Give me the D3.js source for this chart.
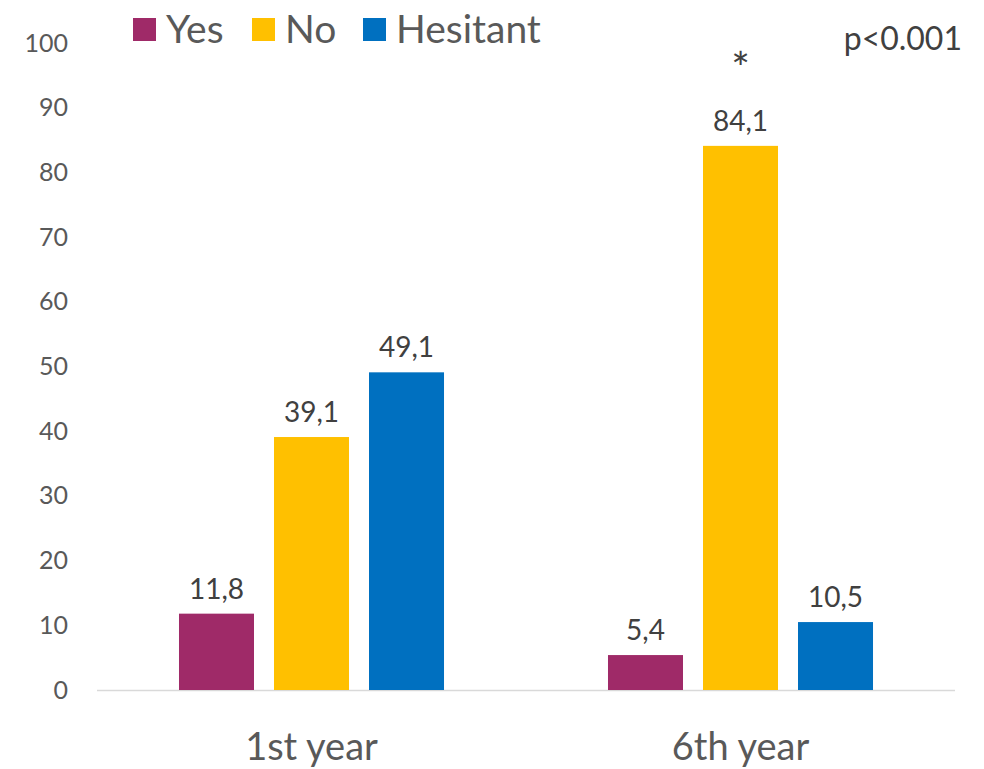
<!DOCTYPE html>
<html>
<head>
<meta charset="utf-8">
<script src="https://cdn.jsdelivr.net/npm/d3@7"></script>
<style>
  body { margin: 0; background: #fff; }
  svg { font-family: "Lato", "Open Sans", sans-serif; }
</style>
</head>
<body>
<div id="chart"></div>
<script>
// data
var years = ["1st year", "6th year"];
var answers = ["Yes", "No", "Hesitant"];
var yesValues = [11.8, 5.4];
var noValues = [39.1, 84.1];
var hesitantValues = [49.1, 10.5];
var yTicks = [0, 10, 20, 30, 40, 50, 60, 70, 80, 90, 100];

var colors = { "Yes": "#9F2A68", "No": "#FFC000", "Hesitant": "#0070C0" };

var width = 984, height = 769;

var svg = d3.select("#chart")
  .append("svg")
    .attr("width", width)
    .attr("height", height);

// rows built from the arrays above
var rows = years.map(function(y, i) {
  return { year: y, Yes: yesValues[i], No: noValues[i], Hesitant: hesitantValues[i] };
});

var x0 = d3.scaleBand()
  .domain(years)
  .range([97, 955])
  .padding(0);

var x1 = d3.scaleBand()
  .domain(answers)
  .range([0, x0.bandwidth()])
  .paddingInner(0.2105)
  .paddingOuter(0.863);

var y = d3.scaleLinear()
  .domain([0, 100])
  .range([690, 43]);

// y axis labels (no line)
var yAxis = svg.append("g")
  .attr("transform", "translate(68,0)")
  .call(d3.axisLeft(y).tickValues(yTicks).tickSize(0).tickPadding(0));
yAxis.select(".domain").remove();
yAxis.selectAll("text")
  .style("font-family", "Lato, sans-serif")
  .style("font-size", "25px")
  .style("fill", "#595959");

// baseline
svg.append("line")
  .attr("x1", 97).attr("x2", 955)
  .attr("y1", y(0) + 0.5).attr("y2", y(0) + 0.5)
  .style("stroke", "#d9d9d9")
  .style("stroke-width", 1.5);

// bars
var groups = svg.selectAll("g.year")
  .data(rows)
  .enter()
  .append("g")
    .attr("class", "year")
    .attr("transform", function(d) { return "translate(" + x0(d.year) + ",0)"; });

groups.selectAll("rect")
  .data(function(d) { return answers.map(function(a) { return { key: a, value: d[a] }; }); })
  .enter()
  .append("rect")
    .attr("x", function(d) { return x1(d.key); })
    .attr("y", function(d) { return y(d.value); })
    .attr("width", x1.bandwidth())
    .attr("height", function(d) { return y(0) - y(d.value); })
    .style("fill", function(d) { return colors[d.key]; });

// value labels
groups.selectAll("text.val")
  .data(function(d) { return answers.map(function(a) { return { key: a, value: d[a] }; }); })
  .enter()
  .append("text")
    .attr("class", "val")
    .attr("x", function(d) { return x1(d.key) + x1.bandwidth() / 2; })
    .attr("y", function(d) { return y(d.value) - 15; })
    .attr("text-anchor", "middle")
    .style("font-size", "28px")
    .style("fill", "#404040")
    .text(function(d) { return String(d.value).replace(".", ","); });

// category labels
svg.selectAll("text.cat")
  .data(years)
  .enter()
  .append("text")
    .attr("class", "cat")
    .attr("x", function(d) { return x0(d) + x0.bandwidth() / 2; })
    .attr("y", 760)
    .attr("text-anchor", "middle")
    .style("font-size", "38px")
    .style("fill", "#595959")
    .text(function(d) { return d; });

// significance marks
svg.append("text")
  .attr("x", x0("6th year") + x1("No") + x1.bandwidth() / 2)
  .attr("y", 84)
  .attr("text-anchor", "middle")
  .style("font-size", "44px")
  .style("fill", "#404040")
  .text("*");

svg.append("text")
  .attr("x", 962)
  .attr("y", 50)
  .attr("text-anchor", "end")
  .style("font-size", "32px")
  .style("fill", "#404040")
  .text("p<0.001");

// legend
var legX = [133, 252, 363];
var leg = svg.selectAll("g.legend")
  .data(answers)
  .enter()
  .append("g")
    .attr("class", "legend")
    .attr("transform", function(d, i) { return "translate(" + legX[i] + ",0)"; });

leg.append("rect")
  .attr("x", 0).attr("y", 18)
  .attr("width", 23).attr("height", 23)
  .style("fill", function(d) { return colors[d]; });

leg.append("text")
  .attr("x", 33)
  .attr("y", 43)
  .style("font-size", "39px")
  .style("fill", "#595959")
  .text(function(d) { return d; });
</script>
</body>
</html>
